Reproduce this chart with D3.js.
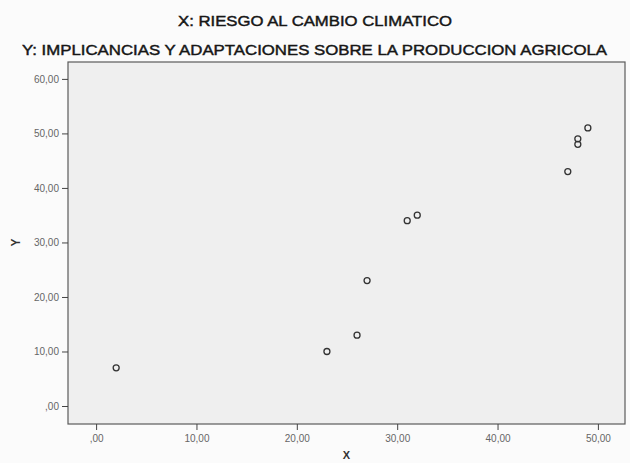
<!DOCTYPE html>
<html><head><meta charset="utf-8">
<script src="https://cdn.jsdelivr.net/npm/d3@7"></script>
<style>
html,body{margin:0;padding:0;background:#fbfbfb;}
svg{display:block;font-family:"Liberation Sans",Arial,sans-serif;}
</style></head>
<body><svg id="c" width="630" height="463"></svg>
<script>
const titleLines = ["X: RIESGO AL CAMBIO CLIMATICO", "Y: IMPLICANCIAS Y ADAPTACIONES SOBRE LA PRODUCCION AGRICOLA"];
const xLabel = "X";
const yLabel = "Y";
const xValues = [2, 23, 26, 27, 31, 32, 47, 48, 48, 49];
const yValues = [7, 10, 13, 23, 34, 35, 43, 48, 49, 51];
const xTicks = [0, 10, 20, 30, 40, 50];
const yTicks = [0, 10, 20, 30, 40, 50, 60];
const fmt = v => v === 0 ? ",00" : v.toFixed(2).replace(".", ",");

const svg = d3.select("#c");
const plot = {left: 68, right: 625, top: 62, bottom: 424};
const x = d3.scaleLinear().domain([-2.8, 52.7]).range([plot.left, plot.right]);
const y = d3.scaleLinear().domain([-3.3, 63.1]).range([plot.bottom, plot.top]);

svg.append("rect").attr("x", plot.left).attr("y", plot.top)
  .attr("width", plot.right - plot.left).attr("height", plot.bottom - plot.top)
  .attr("fill", "#efefef").attr("stroke", "#5a5a5a").attr("stroke-width", 1.2);

svg.append("text").attr("x", 315).attr("y", 25.5).attr("text-anchor", "middle")
  .attr("font-size", 15.3).attr("fill", "#161616").attr("stroke", "#161616").attr("stroke-width", 0.45)
  .attr("textLength", 274).attr("lengthAdjust", "spacingAndGlyphs").text(titleLines[0]);
svg.append("text").attr("x", 314.5).attr("y", 55).attr("text-anchor", "middle")
  .attr("font-size", 15.3).attr("fill", "#161616").attr("stroke", "#161616").attr("stroke-width", 0.45)
  .attr("textLength", 585).attr("lengthAdjust", "spacingAndGlyphs").text(titleLines[1]);

const xAxis = d3.axisBottom(x).tickValues(xTicks).tickFormat(fmt).tickSize(6).tickSizeOuter(0);
const gx = svg.append("g").attr("transform", `translate(0,${plot.bottom})`).call(xAxis);
gx.select(".domain").remove();
gx.selectAll(".tick line").attr("stroke", "#444");
gx.selectAll(".tick text").attr("fill", "#666").attr("font-size", 10).attr("dy", "0.9em");

const yAxis = d3.axisLeft(y).tickValues(yTicks).tickFormat(fmt).tickSize(6).tickSizeOuter(0);
const gy = svg.append("g").attr("transform", `translate(${plot.left},0)`).call(yAxis);
gy.select(".domain").remove();
gy.selectAll(".tick line").attr("stroke", "#444");
gy.selectAll(".tick text").attr("fill", "#666").attr("font-size", 10);

svg.append("text").attr("x", (plot.left + plot.right) / 2).attr("y", 459)
  .attr("text-anchor", "middle").attr("font-size", 11).attr("font-weight", "bold").attr("fill", "#333").text(xLabel);
svg.append("text").attr("transform", `translate(20,${y(30)}) rotate(-90)`)
  .attr("text-anchor", "middle").attr("font-size", 12).attr("font-weight", "bold").attr("fill", "#333").text(yLabel);

const pts = xValues.map((v, i) => ({x: v, y: yValues[i]}));
svg.append("g").selectAll("circle").data(pts).join("circle")
  .attr("cx", d => x(d.x)).attr("cy", d => y(d.y)).attr("r", 3)
  .attr("fill", "none").attr("stroke", "#333").attr("stroke-width", 1.3);
</script></body></html>
